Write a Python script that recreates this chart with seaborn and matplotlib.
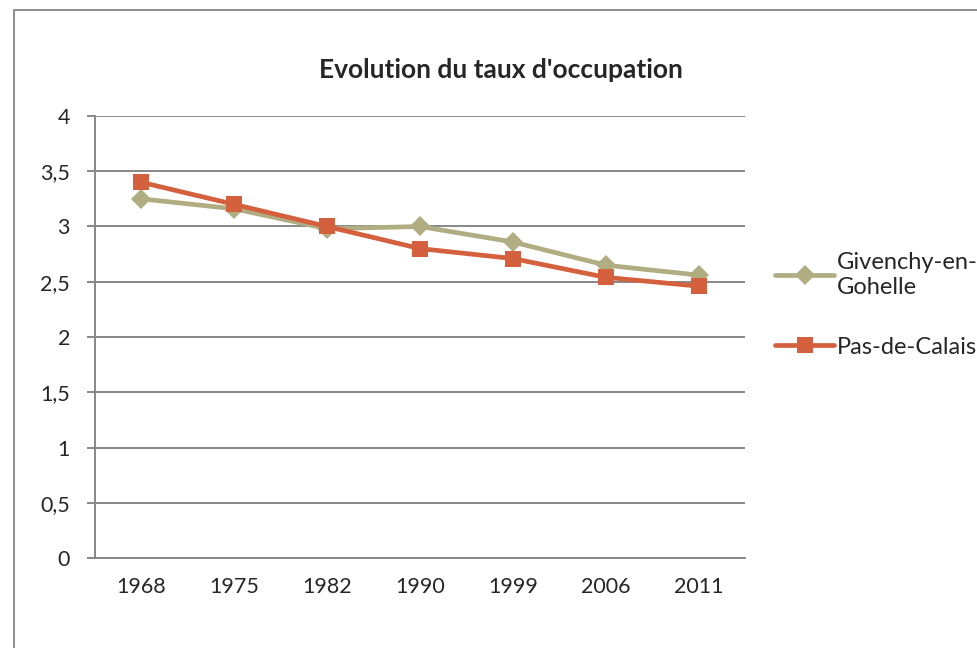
import numpy as np
import pandas as pd
import matplotlib
matplotlib.use("Agg")
import matplotlib.pyplot as plt
import seaborn as sns
from matplotlib.lines import Line2D
from matplotlib.ticker import FuncFormatter

years = ["1968", "1975", "1982", "1990", "1999", "2006", "2011"]
givenchy = [3.25, 3.16, 2.98, 3.00, 2.86, 2.65, 2.56]
pas_de_calais = [3.40, 3.20, 3.00, 2.80, 2.71, 2.54, 2.46]
series_names = ["Givenchy-en-Gohelle", "Pas-de-Calais"]
legend_labels = ["Givenchy-en-\nGohelle", "Pas-de-Calais"]
colors = ["#B1AD83", "#D5603E"]
markers = ["D", "s"]
msizes = [10, 12]

df = pd.DataFrame({
    "annee": years * 2,
    "taux": givenchy + pas_de_calais,
    "zone": [series_names[0]] * len(years) + [series_names[1]] * len(years),
})

sns.set_style("white")
plt.rcParams["font.family"] = ["Lato", "DejaVu Sans"]

fig = plt.figure(figsize=(9.77, 6.48), dpi=100)
ax = fig.add_axes([95 / 977, 90 / 648, 650 / 977, 442 / 648])

for name, c, m, ms in zip(series_names, colors, markers, msizes):
    sub = df[df["zone"] == name]
    sns.lineplot(x=np.arange(len(years)), y=sub["taux"].values, ax=ax, color=c,
                 linewidth=3.4, marker=m, markersize=ms, markeredgewidth=0,
                 label=name, zorder=3)

ax.set_xlim(-0.5, len(years) - 0.5)
ax.set_ylim(0, 4)
ax.set_yticks(np.arange(0, 4.01, 0.5))
ax.yaxis.set_major_formatter(FuncFormatter(lambda v, p: f"{v:g}".replace(".", ",")))
ax.set_xticks(np.arange(len(years)))
ax.set_xticklabels(years)
ax.set_xticks(np.arange(-0.5, len(years)), minor=True)
ax.tick_params(axis="x", which="major", length=0, pad=14, labelsize=15.5)
ax.tick_params(axis="x", which="minor", length=6, width=1.4, color="#878787", direction="out")
ax.tick_params(axis="y", length=6, width=1.4, color="#878787", pad=12, labelsize=15.5, left=True)
ax.grid(axis="y", color="#878787", linewidth=1.4)
ax.set_axisbelow(True)
for s in ["top", "right"]:
    ax.spines[s].set_visible(False)
for s in ["left", "bottom"]:
    ax.spines[s].set_color("#878787")
    ax.spines[s].set_linewidth(1.4)
ax.set_xlabel("")
ax.set_ylabel("")

handles, _ = ax.get_legend_handles_labels()
ax.legend(handles, legend_labels, loc="center left", bbox_to_anchor=(775 / 977, 1 - 305 / 648),
          bbox_transform=fig.transFigure, frameon=False, fontsize=17,
          handlelength=2.5, handletextpad=0.1, labelspacing=1.65, borderpad=0, borderaxespad=0)

fig.text(501 / 977, 1 - 70 / 648, "Evolution du taux d'occupation", ha="center", va="center",
         fontsize=19, fontweight="bold")

# cadre du graphique (gauche et haut)
fig.add_artist(Line2D([14 / 977, 14 / 977, 1], [0, 1 - 10 / 648, 1 - 10 / 648],
                      transform=fig.transFigure, color="#8C8C8C", linewidth=1.4))

fig.savefig("out.png", dpi=100)
